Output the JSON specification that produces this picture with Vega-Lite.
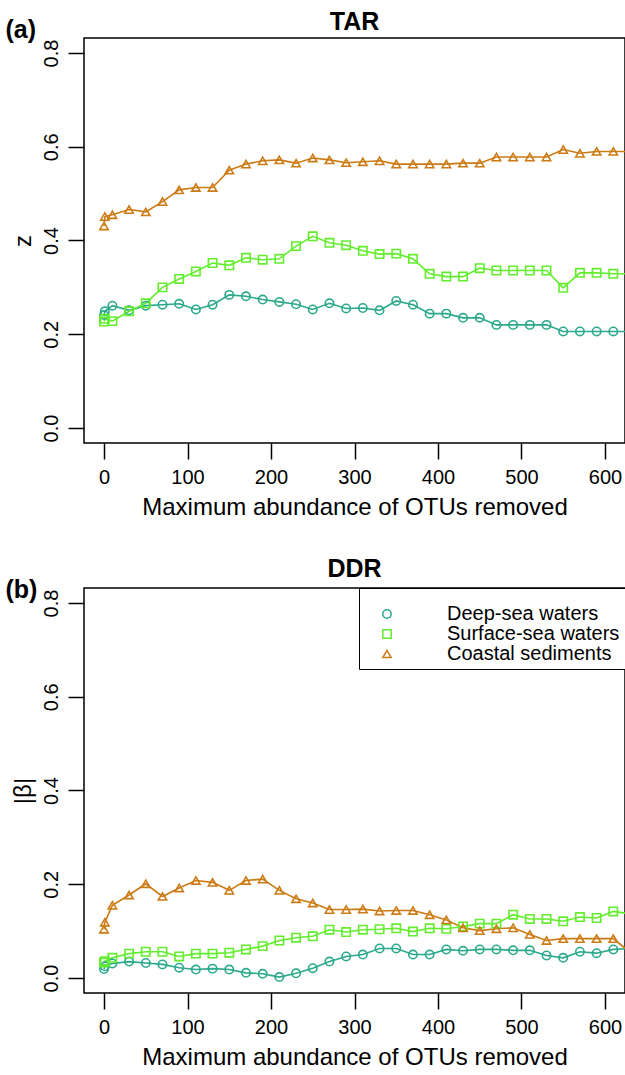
{
  "$schema": "https://vega.github.io/schema/vega-lite/v6.json",
  "background": "white",
  "padding": {"left": 4, "top": 9, "right": 1, "bottom": 2},
  "bounds": "flush",
  "spacing": 145,
  "config": {
    "view": {"stroke": "black", "strokeWidth": 1.5},
    "font": "Liberation Sans",
    "axis": {"labelFont": "Liberation Sans", "titleFont": "Liberation Sans", "labelColor": "black", "titleColor": "black", "tickColor": "black", "grid": false, "domain": false}
  },
  "resolve": {"legend": {"color": "independent", "shape": "independent"}},
  "datasets": {
    "tar": [
      {"x":0,"v":0.241,"habitat":"Deep-sea waters"},{"x":1,"v":0.249,"habitat":"Deep-sea waters"},{"x":10,"v":0.261,"habitat":"Deep-sea waters"},{"x":30,"v":0.251,"habitat":"Deep-sea waters"},{"x":50,"v":0.261,"habitat":"Deep-sea waters"},{"x":70,"v":0.263,"habitat":"Deep-sea waters"},{"x":90,"v":0.265,"habitat":"Deep-sea waters"},{"x":110,"v":0.253,"habitat":"Deep-sea waters"},{"x":130,"v":0.263,"habitat":"Deep-sea waters"},{"x":150,"v":0.284,"habitat":"Deep-sea waters"},{"x":170,"v":0.281,"habitat":"Deep-sea waters"},{"x":190,"v":0.274,"habitat":"Deep-sea waters"},{"x":210,"v":0.269,"habitat":"Deep-sea waters"},{"x":230,"v":0.264,"habitat":"Deep-sea waters"},{"x":250,"v":0.253,"habitat":"Deep-sea waters"},{"x":270,"v":0.266,"habitat":"Deep-sea waters"},{"x":290,"v":0.255,"habitat":"Deep-sea waters"},{"x":310,"v":0.256,"habitat":"Deep-sea waters"},{"x":330,"v":0.251,"habitat":"Deep-sea waters"},{"x":350,"v":0.271,"habitat":"Deep-sea waters"},{"x":370,"v":0.263,"habitat":"Deep-sea waters"},{"x":390,"v":0.244,"habitat":"Deep-sea waters"},{"x":410,"v":0.244,"habitat":"Deep-sea waters"},{"x":430,"v":0.235,"habitat":"Deep-sea waters"},{"x":450,"v":0.235,"habitat":"Deep-sea waters"},{"x":470,"v":0.220,"habitat":"Deep-sea waters"},{"x":490,"v":0.220,"habitat":"Deep-sea waters"},{"x":510,"v":0.220,"habitat":"Deep-sea waters"},{"x":530,"v":0.220,"habitat":"Deep-sea waters"},{"x":550,"v":0.206,"habitat":"Deep-sea waters"},{"x":570,"v":0.206,"habitat":"Deep-sea waters"},{"x":590,"v":0.206,"habitat":"Deep-sea waters"},{"x":610,"v":0.206,"habitat":"Deep-sea waters"},{"x":630,"v":0.206,"habitat":"Deep-sea waters"},
      {"x":0,"v":0.227,"habitat":"Surface-sea waters"},{"x":1,"v":0.233,"habitat":"Surface-sea waters"},{"x":10,"v":0.228,"habitat":"Surface-sea waters"},{"x":30,"v":0.249,"habitat":"Surface-sea waters"},{"x":50,"v":0.266,"habitat":"Surface-sea waters"},{"x":70,"v":0.300,"habitat":"Surface-sea waters"},{"x":90,"v":0.318,"habitat":"Surface-sea waters"},{"x":110,"v":0.334,"habitat":"Surface-sea waters"},{"x":130,"v":0.352,"habitat":"Surface-sea waters"},{"x":150,"v":0.347,"habitat":"Surface-sea waters"},{"x":170,"v":0.363,"habitat":"Surface-sea waters"},{"x":190,"v":0.359,"habitat":"Surface-sea waters"},{"x":210,"v":0.361,"habitat":"Surface-sea waters"},{"x":230,"v":0.388,"habitat":"Surface-sea waters"},{"x":250,"v":0.409,"habitat":"Surface-sea waters"},{"x":270,"v":0.395,"habitat":"Surface-sea waters"},{"x":290,"v":0.390,"habitat":"Surface-sea waters"},{"x":310,"v":0.378,"habitat":"Surface-sea waters"},{"x":330,"v":0.371,"habitat":"Surface-sea waters"},{"x":350,"v":0.372,"habitat":"Surface-sea waters"},{"x":370,"v":0.361,"habitat":"Surface-sea waters"},{"x":390,"v":0.329,"habitat":"Surface-sea waters"},{"x":410,"v":0.323,"habitat":"Surface-sea waters"},{"x":430,"v":0.323,"habitat":"Surface-sea waters"},{"x":450,"v":0.341,"habitat":"Surface-sea waters"},{"x":470,"v":0.336,"habitat":"Surface-sea waters"},{"x":490,"v":0.336,"habitat":"Surface-sea waters"},{"x":510,"v":0.336,"habitat":"Surface-sea waters"},{"x":530,"v":0.336,"habitat":"Surface-sea waters"},{"x":550,"v":0.299,"habitat":"Surface-sea waters"},{"x":570,"v":0.331,"habitat":"Surface-sea waters"},{"x":590,"v":0.331,"habitat":"Surface-sea waters"},{"x":610,"v":0.329,"habitat":"Surface-sea waters"},{"x":630,"v":0.329,"habitat":"Surface-sea waters"},
      {"x":0,"v":0.431,"habitat":"Coastal sediments"},{"x":1,"v":0.451,"habitat":"Coastal sediments"},{"x":10,"v":0.455,"habitat":"Coastal sediments"},{"x":30,"v":0.466,"habitat":"Coastal sediments"},{"x":50,"v":0.461,"habitat":"Coastal sediments"},{"x":70,"v":0.483,"habitat":"Coastal sediments"},{"x":90,"v":0.508,"habitat":"Coastal sediments"},{"x":110,"v":0.513,"habitat":"Coastal sediments"},{"x":130,"v":0.513,"habitat":"Coastal sediments"},{"x":150,"v":0.550,"habitat":"Coastal sediments"},{"x":170,"v":0.563,"habitat":"Coastal sediments"},{"x":190,"v":0.570,"habitat":"Coastal sediments"},{"x":210,"v":0.572,"habitat":"Coastal sediments"},{"x":230,"v":0.565,"habitat":"Coastal sediments"},{"x":250,"v":0.576,"habitat":"Coastal sediments"},{"x":270,"v":0.572,"habitat":"Coastal sediments"},{"x":290,"v":0.566,"habitat":"Coastal sediments"},{"x":310,"v":0.568,"habitat":"Coastal sediments"},{"x":330,"v":0.570,"habitat":"Coastal sediments"},{"x":350,"v":0.563,"habitat":"Coastal sediments"},{"x":370,"v":0.563,"habitat":"Coastal sediments"},{"x":390,"v":0.563,"habitat":"Coastal sediments"},{"x":410,"v":0.563,"habitat":"Coastal sediments"},{"x":430,"v":0.565,"habitat":"Coastal sediments"},{"x":450,"v":0.565,"habitat":"Coastal sediments"},{"x":470,"v":0.578,"habitat":"Coastal sediments"},{"x":490,"v":0.578,"habitat":"Coastal sediments"},{"x":510,"v":0.578,"habitat":"Coastal sediments"},{"x":530,"v":0.578,"habitat":"Coastal sediments"},{"x":550,"v":0.594,"habitat":"Coastal sediments"},{"x":570,"v":0.586,"habitat":"Coastal sediments"},{"x":590,"v":0.590,"habitat":"Coastal sediments"},{"x":610,"v":0.590,"habitat":"Coastal sediments"},{"x":630,"v":0.590,"habitat":"Coastal sediments"}
    ],
    "ddr": [
      {"x":0,"v":0.019,"habitat":"Deep-sea waters"},{"x":1,"v":0.025,"habitat":"Deep-sea waters"},{"x":10,"v":0.031,"habitat":"Deep-sea waters"},{"x":30,"v":0.035,"habitat":"Deep-sea waters"},{"x":50,"v":0.032,"habitat":"Deep-sea waters"},{"x":70,"v":0.029,"habitat":"Deep-sea waters"},{"x":90,"v":0.022,"habitat":"Deep-sea waters"},{"x":110,"v":0.018,"habitat":"Deep-sea waters"},{"x":130,"v":0.020,"habitat":"Deep-sea waters"},{"x":150,"v":0.018,"habitat":"Deep-sea waters"},{"x":170,"v":0.011,"habitat":"Deep-sea waters"},{"x":190,"v":0.009,"habitat":"Deep-sea waters"},{"x":210,"v":0.002,"habitat":"Deep-sea waters"},{"x":230,"v":0.010,"habitat":"Deep-sea waters"},{"x":250,"v":0.021,"habitat":"Deep-sea waters"},{"x":270,"v":0.035,"habitat":"Deep-sea waters"},{"x":290,"v":0.046,"habitat":"Deep-sea waters"},{"x":310,"v":0.050,"habitat":"Deep-sea waters"},{"x":330,"v":0.063,"habitat":"Deep-sea waters"},{"x":350,"v":0.063,"habitat":"Deep-sea waters"},{"x":370,"v":0.050,"habitat":"Deep-sea waters"},{"x":390,"v":0.050,"habitat":"Deep-sea waters"},{"x":410,"v":0.061,"habitat":"Deep-sea waters"},{"x":430,"v":0.058,"habitat":"Deep-sea waters"},{"x":450,"v":0.061,"habitat":"Deep-sea waters"},{"x":470,"v":0.061,"habitat":"Deep-sea waters"},{"x":490,"v":0.059,"habitat":"Deep-sea waters"},{"x":510,"v":0.059,"habitat":"Deep-sea waters"},{"x":530,"v":0.048,"habitat":"Deep-sea waters"},{"x":550,"v":0.043,"habitat":"Deep-sea waters"},{"x":570,"v":0.056,"habitat":"Deep-sea waters"},{"x":590,"v":0.053,"habitat":"Deep-sea waters"},{"x":610,"v":0.061,"habitat":"Deep-sea waters"},{"x":630,"v":0.063,"habitat":"Deep-sea waters"},
      {"x":0,"v":0.033,"habitat":"Surface-sea waters"},{"x":1,"v":0.036,"habitat":"Surface-sea waters"},{"x":10,"v":0.043,"habitat":"Surface-sea waters"},{"x":30,"v":0.052,"habitat":"Surface-sea waters"},{"x":50,"v":0.056,"habitat":"Surface-sea waters"},{"x":70,"v":0.056,"habitat":"Surface-sea waters"},{"x":90,"v":0.046,"habitat":"Surface-sea waters"},{"x":110,"v":0.052,"habitat":"Surface-sea waters"},{"x":130,"v":0.052,"habitat":"Surface-sea waters"},{"x":150,"v":0.054,"habitat":"Surface-sea waters"},{"x":170,"v":0.061,"habitat":"Surface-sea waters"},{"x":190,"v":0.068,"habitat":"Surface-sea waters"},{"x":210,"v":0.080,"habitat":"Surface-sea waters"},{"x":230,"v":0.086,"habitat":"Surface-sea waters"},{"x":250,"v":0.089,"habitat":"Surface-sea waters"},{"x":270,"v":0.103,"habitat":"Surface-sea waters"},{"x":290,"v":0.098,"habitat":"Surface-sea waters"},{"x":310,"v":0.103,"habitat":"Surface-sea waters"},{"x":330,"v":0.104,"habitat":"Surface-sea waters"},{"x":350,"v":0.106,"habitat":"Surface-sea waters"},{"x":370,"v":0.099,"habitat":"Surface-sea waters"},{"x":390,"v":0.106,"habitat":"Surface-sea waters"},{"x":410,"v":0.105,"habitat":"Surface-sea waters"},{"x":430,"v":0.110,"habitat":"Surface-sea waters"},{"x":450,"v":0.116,"habitat":"Surface-sea waters"},{"x":470,"v":0.116,"habitat":"Surface-sea waters"},{"x":490,"v":0.135,"habitat":"Surface-sea waters"},{"x":510,"v":0.126,"habitat":"Surface-sea waters"},{"x":530,"v":0.126,"habitat":"Surface-sea waters"},{"x":550,"v":0.121,"habitat":"Surface-sea waters"},{"x":570,"v":0.130,"habitat":"Surface-sea waters"},{"x":590,"v":0.128,"habitat":"Surface-sea waters"},{"x":610,"v":0.142,"habitat":"Surface-sea waters"},{"x":630,"v":0.137,"habitat":"Surface-sea waters"},
      {"x":0,"v":0.104,"habitat":"Coastal sediments"},{"x":1,"v":0.119,"habitat":"Coastal sediments"},{"x":10,"v":0.155,"habitat":"Coastal sediments"},{"x":30,"v":0.177,"habitat":"Coastal sediments"},{"x":50,"v":0.201,"habitat":"Coastal sediments"},{"x":70,"v":0.174,"habitat":"Coastal sediments"},{"x":90,"v":0.192,"habitat":"Coastal sediments"},{"x":110,"v":0.208,"habitat":"Coastal sediments"},{"x":130,"v":0.204,"habitat":"Coastal sediments"},{"x":150,"v":0.187,"habitat":"Coastal sediments"},{"x":170,"v":0.208,"habitat":"Coastal sediments"},{"x":190,"v":0.211,"habitat":"Coastal sediments"},{"x":210,"v":0.187,"habitat":"Coastal sediments"},{"x":230,"v":0.169,"habitat":"Coastal sediments"},{"x":250,"v":0.160,"habitat":"Coastal sediments"},{"x":270,"v":0.146,"habitat":"Coastal sediments"},{"x":290,"v":0.146,"habitat":"Coastal sediments"},{"x":310,"v":0.147,"habitat":"Coastal sediments"},{"x":330,"v":0.143,"habitat":"Coastal sediments"},{"x":350,"v":0.144,"habitat":"Coastal sediments"},{"x":370,"v":0.144,"habitat":"Coastal sediments"},{"x":390,"v":0.135,"habitat":"Coastal sediments"},{"x":410,"v":0.124,"habitat":"Coastal sediments"},{"x":430,"v":0.107,"habitat":"Coastal sediments"},{"x":450,"v":0.101,"habitat":"Coastal sediments"},{"x":470,"v":0.105,"habitat":"Coastal sediments"},{"x":490,"v":0.107,"habitat":"Coastal sediments"},{"x":510,"v":0.093,"habitat":"Coastal sediments"},{"x":530,"v":0.080,"habitat":"Coastal sediments"},{"x":550,"v":0.084,"habitat":"Coastal sediments"},{"x":570,"v":0.084,"habitat":"Coastal sediments"},{"x":590,"v":0.084,"habitat":"Coastal sediments"},{"x":610,"v":0.084,"habitat":"Coastal sediments"},{"x":630,"v":0.055,"habitat":"Coastal sediments"}
    ]
  },
  "vconcat": [
    {
      "width": 541,
      "height": 405,
      "data": {"name": "tar"},
      "title": {"text": "TAR", "anchor": "middle", "frame": "group", "baseline": "alphabetic", "offset": 0, "dy": 38, "fontSize": 25, "fontWeight": "bold", "color": "black", "font": "Liberation Sans"},
      "resolve": {"axis": {"x": "independent"}},
      "layer": [
        {
          "mark": {"type": "line", "strokeWidth": 1.6, "clip": true},
          "encoding": {
            "x": {"field": "x", "type": "quantitative", "scale": {"domain": [-24, 624], "nice": false, "zero": false},
              "axis": {"orient": "bottom", "values": [0,100,200,300,400,500,600], "title": "Maximum abundance of OTUs removed", "tickSize": 16, "tickWidth": 1.5, "labelFontSize": 20, "labelPadding": 8, "labelFlush": false, "labelOverlap": false, "titleFontSize": 24, "titleFontWeight": "normal", "titlePadding": 8}},
            "y": {"field": "v", "type": "quantitative", "scale": {"domain": [-0.032, 0.832], "nice": false, "zero": false},
              "axis": {"values": [0,0.2,0.4,0.6,0.8], "format": ".1f", "title": "z", "tickSize": 16, "tickWidth": 1.5, "labelAngle": 270, "labelAlign": "center", "labelBaseline": "bottom", "labelPadding": 7, "labelFontSize": 20, "labelFlush": false, "titleFontSize": 24, "titleFontWeight": "normal", "titlePadding": 6}},
            "color": {"field": "habitat", "type": "nominal", "scale": {"domain": ["Deep-sea waters","Surface-sea waters","Coastal sediments"], "range": ["#2AA98B","#62EE2C","#CC7B14"]}, "legend": null}
          }
        },
        {
          "mark": {"type": "point", "filled": false, "size": 70, "strokeWidth": 1.6, "opacity": 1, "clip": true},
          "encoding": {
            "x": {"field": "x", "type": "quantitative", "scale": {"domain": [-24, 624], "nice": false, "zero": false},
              "axis": {"orient": "top", "title": "(a)", "labels": false, "ticks": false, "titleX": -79, "titleY": 4, "titleAlign": "left", "titleBaseline": "bottom", "titleAngle": 0, "titleFontSize": 25, "titleFontWeight": "bold"}},
            "y": {"field": "v", "type": "quantitative"},
            "color": {"field": "habitat", "type": "nominal", "legend": null},
            "shape": {"field": "habitat", "type": "nominal", "scale": {"domain": ["Deep-sea waters","Surface-sea waters","Coastal sediments"], "range": ["circle","square","triangle-up"]}, "legend": null}
          }
        }
      ]
    },
    {
      "width": 541,
      "height": 405,
      "data": {"name": "ddr"},
      "title": {"text": "DDR", "anchor": "middle", "frame": "group", "baseline": "alphabetic", "offset": 0, "dy": 25, "fontSize": 25, "fontWeight": "bold", "color": "black", "font": "Liberation Sans"},
      "resolve": {"axis": {"x": "independent"}},
      "layer": [
        {
          "mark": {"type": "line", "strokeWidth": 1.6, "clip": true},
          "encoding": {
            "x": {"field": "x", "type": "quantitative", "scale": {"domain": [-24, 624], "nice": false, "zero": false},
              "axis": {"orient": "bottom", "values": [0,100,200,300,400,500,600], "title": "Maximum abundance of OTUs removed", "tickSize": 16, "tickWidth": 1.5, "labelFontSize": 20, "labelPadding": 8, "labelFlush": false, "labelOverlap": false, "titleFontSize": 24, "titleFontWeight": "normal", "titlePadding": 8}},
            "y": {"field": "v", "type": "quantitative", "scale": {"domain": [-0.032, 0.832], "nice": false, "zero": false},
              "axis": {"values": [0,0.2,0.4,0.6,0.8], "format": ".1f", "title": "|β|", "tickSize": 16, "tickWidth": 1.5, "labelAngle": 270, "labelAlign": "center", "labelBaseline": "bottom", "labelPadding": 7, "labelFontSize": 20, "labelFlush": false, "titleFontSize": 24, "titleFontWeight": "normal", "titlePadding": 6}},
            "color": {"field": "habitat", "type": "nominal", "scale": {"domain": ["Deep-sea waters","Surface-sea waters","Coastal sediments"], "range": ["#2AA98B","#62EE2C","#CC7B14"]},
              "legend": {"orient": "top-right", "offset": 0, "title": " ", "titleFontSize": 7, "titlePadding": 5, "strokeColor": "black", "fillColor": "white", "padding": 5, "cornerRadius": 0,
                "labelFontSize": 20, "labelFont": "Liberation Sans", "labelColor": "black", "labelOffset": 50, "labelLimit": 300, "rowPadding": 0, "clipHeight": 18,
                "symbolSize": 70, "symbolStrokeWidth": 1.5, "symbolOffset": 13}}
          }
        },
        {
          "mark": {"type": "point", "filled": false, "size": 70, "strokeWidth": 1.6, "opacity": 1, "clip": true},
          "encoding": {
            "x": {"field": "x", "type": "quantitative", "scale": {"domain": [-24, 624], "nice": false, "zero": false},
              "axis": {"orient": "top", "title": "(b)", "labels": false, "ticks": false, "titleX": -79, "titleY": 14, "titleAlign": "left", "titleBaseline": "bottom", "titleAngle": 0, "titleFontSize": 25, "titleFontWeight": "bold"}},
            "y": {"field": "v", "type": "quantitative"},
            "color": {"field": "habitat", "type": "nominal"},
            "shape": {"field": "habitat", "type": "nominal", "scale": {"domain": ["Deep-sea waters","Surface-sea waters","Coastal sediments"], "range": ["circle","square","triangle-up"]}, "legend": null}
          }
        }
      ]
    }
  ]
}
